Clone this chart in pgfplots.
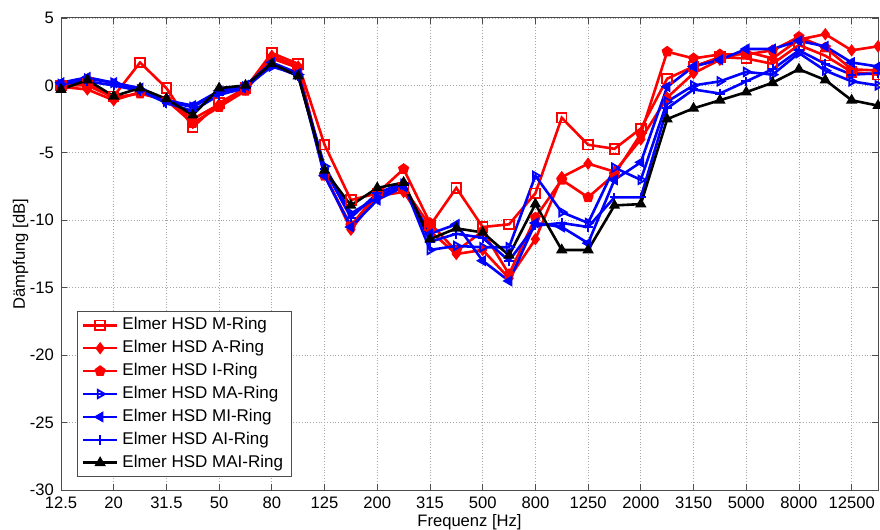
\documentclass[border=0pt]{standalone}
\usepackage{fontspec}
\setmainfont{Liberation Sans}
\usepackage{pgfplots}
\usepackage{pgfplotstable}
\pgfplotsset{compat=1.18}
\pgfplotstableread{
i M A I MA MI AI MAI
0 0.0 -0.1 0.0 0.1 0.2 0.1 -0.3
1 0.2 -0.3 0.0 0.5 0.6 0.3 0.4
2 -0.8 -1.1 -0.9 0.2 0.2 0.0 -0.8
3 1.7 -0.5 -0.6 -0.3 -0.2 -0.4 -0.2
4 -0.2 -1.0 -1.1 -1.2 -1.1 -1.3 -1.0
5 -3.1 -2.5 -2.8 -1.6 -1.5 -1.9 -2.2
6 -1.3 -1.4 -1.6 -0.5 -0.4 -0.7 -0.2
7 -0.2 -0.3 -0.4 -0.1 0.0 -0.2 0.0
8 2.4 2.2 2.0 1.4 1.7 1.5 1.6
9 1.6 1.4 1.3 0.8 0.9 0.7 0.7
10 -4.4 -6.5 -6.7 -6.0 -6.7 -6.2 -6.3
11 -8.5 -10.7 -10.4 -9.5 -10.5 -9.8 -8.9
12 -8.0 -8.2 -8.0 -8.3 -8.5 -8.0 -7.6
13 -7.6 -7.9 -6.2 -7.3 -7.5 -7.2 -7.2
14 -10.4 -10.8 -10.2 -12.2 -11.0 -11.6 -11.4
15 -7.6 -12.5 -12.3 -11.9 -10.3 -11.0 -10.6
16 -10.5 -12.2 -10.8 -12.0 -13.0 -11.3 -10.9
17 -10.3 -14.3 -14.0 -12.0 -14.5 -13.0 -12.6
18 -8.0 -11.4 -9.8 -6.7 -10.2 -10.4 -8.8
19 -2.4 -6.8 -7.0 -9.4 -10.5 -10.2 -12.2
20 -4.4 -5.8 -8.3 -10.2 -11.7 -10.5 -12.2
21 -4.7 -6.4 -6.6 -6.1 -7.0 -8.3 -8.9
22 -3.2 -4.0 -3.6 -7.0 -5.7 -8.3 -8.8
23 0.5 -0.9 2.5 -1.2 -0.1 -1.7 -2.5
24 1.4 0.9 2.0 0.0 1.4 -0.3 -1.7
25 2.1 1.9 2.3 0.3 1.9 -0.6 -1.1
26 2.0 2.5 2.3 1.0 2.7 0.3 -0.5
27 1.6 2.0 2.6 0.8 2.7 1.2 0.2
28 3.0 3.4 3.6 2.4 3.3 2.6 1.2
29 2.2 3.8 2.8 1.1 2.9 1.6 0.4
30 1.0 2.6 1.2 0.3 1.7 0.8 -1.1
31 0.8 2.9 1.1 0.0 1.4 0.9 -1.5
}\datatable
\begin{document}
\begin{tikzpicture}
\begin{axis}[
  name=ax,
  scale only axis,
  width=408.5pt, height=236pt,
  xmin=0, xmax=31, ymin=-30, ymax=5,
  xtick={0,2,...,30},
  xticklabels={12.5,20,31.5,50,80,125,200,315,500,800,1250,2000,3150,5000,8000,12500},
  ytick={-30,-25,...,5},
  /pgf/number format/assume math mode=true,
  grid=major,
  major grid style={densely dotted, gray!70, line width=0.4pt},
  axis line style={gray!60!black, line width=0.5pt},
  tick style={gray!60!black, line width=0.4pt},
  major tick length=3pt,
  tick label style={font=\fontsize{8.3}{9}\selectfont},
  label style={font=\fontsize{8.3}{9}\selectfont},
  xlabel={Frequenz [Hz]},
  ylabel={Dämpfung [dB]},
  xlabel style={yshift=4pt},
  ylabel style={yshift=-6pt},
  legend style={at={(0.02,0.379)}, anchor=north west, font=\fontsize{8.5}{10}\selectfont, draw=gray!60!black, line width=0.5pt, row sep=-0.2pt, inner xsep=2pt, inner ysep=1pt},
  legend cell align=left,
  legend image code/.code={\draw[#1] (0pt,0pt) -- (17pt,0pt); \draw[#1, only marks] plot coordinates {(8.5pt,0pt)};},
  every axis plot/.append style={line width=1.3pt, mark size=2.4pt},
]
\addplot[red, mark=square, mark options={solid, fill=white, line width=0.9pt}] table[x=i, y=M] {\datatable};
\addlegendentry{Elmer HSD M-Ring}
\addplot[red, mark=diamond*, mark options={solid, line width=0.9pt}] table[x=i, y=A] {\datatable};
\addlegendentry{Elmer HSD A-Ring}
\addplot[red, mark=pentagon*, mark options={solid, line width=0.9pt}] table[x=i, y=I] {\datatable};
\addlegendentry{Elmer HSD I-Ring}
\addplot[blue, mark=triangle, mark options={solid, rotate=-90, fill=white, line width=0.9pt}] table[x=i, y=MA] {\datatable};
\addlegendentry{Elmer HSD MA-Ring}
\addplot[blue, mark=triangle*, mark options={solid, rotate=90, line width=0.9pt}] table[x=i, y=MI] {\datatable};
\addlegendentry{Elmer HSD MI-Ring}
\addplot[blue, mark=+, mark options={solid, line width=1pt}] table[x=i, y=AI] {\datatable};
\addlegendentry{Elmer HSD AI-Ring}
\addplot[black, mark=triangle*, mark options={solid, line width=0.9pt}] table[x=i, y=MAI] {\datatable};
\addlegendentry{Elmer HSD MAI-Ring}
\end{axis}
\pgfresetboundingbox
\path ([xshift=-30.5pt, yshift=-19.5pt]ax.south west) rectangle ([xshift=1pt, yshift=9pt]ax.north east);
\end{tikzpicture}
\end{document}
